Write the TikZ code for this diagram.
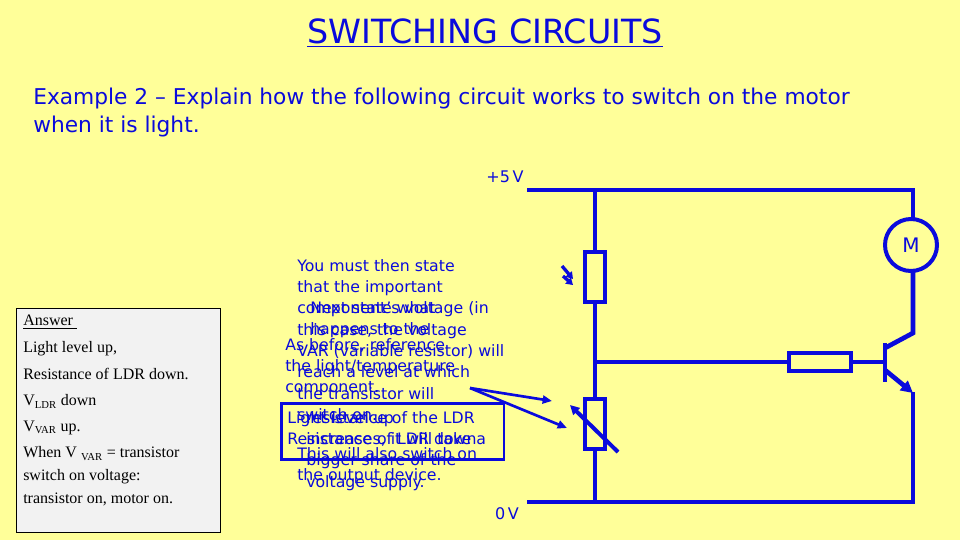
\documentclass[tikz,border=0pt]{standalone}
\usepackage{fontspec}
\setmainfont{DejaVu Sans}
\newfontfamily\tms{Liberation Serif}
\usetikzlibrary{arrows.meta}
\definecolor{bg}{RGB}{255,255,153}
\definecolor{bl}{RGB}{10,10,220}
\definecolor{boxg}{RGB}{242,242,242}
\tikzset{wire/.style={draw=bl,line width=3.5pt},
 bt/.style={text=bl,font=\fontsize{11.8}{16}\selectfont,align=left,anchor=north west,inner sep=0pt},
 comp/.style={draw=bl,line width=3pt,fill=bg}}
\begin{document}
\begin{tikzpicture}[x=0.75pt,y=-0.75pt]
\fill[bg] (0,0) rectangle (960,540);
\useasboundingbox (0,0) rectangle (960,540);
\node[text=bl,font=\fontsize{25}{28}\selectfont] (title) at (485,33) {\underline{SWITCHING CIRCUITS}};
\node[text=bl,font=\fontsize{16.3}{21}\selectfont,align=left,anchor=north west,inner sep=0pt] (ex) at (33,88) {Example 2 -- Explain how the following circuit works to switch on the motor\\when it is light.};
% answer box
\node[draw=black,fill=boxg,minimum width=153pt,minimum height=168pt,anchor=north west,inner sep=0pt] (ans) at (16,308) {};
\node[font=\tms\fontsize{12}{17}\selectfont,align=left,anchor=north west,inner sep=0pt] (anst) at (23,315) {\underline{Answer\ }\\[3pt]Light level up,\\[3pt]Resistance of LDR down.\\[3pt]V\textsubscript{LDR} down\\[2pt]V\textsubscript{VAR} up.\\[3pt]When V \textsubscript{VAR} = transistor\\switch on voltage:\\transistor on, motor on.};
% circuit
\coordinate (tl) at (527,190); \coordinate (tj) at (595,190); \coordinate (tr) at (913,190);
\coordinate (bl0) at (527,502); \coordinate (bj) at (595,502); \coordinate (br) at (913,502);
\coordinate (mid) at (595,362);
\draw[wire] (tl) -- (tr) -- (913,220);
\draw[wire] (bl0) -- (br) -- (913,392);
\draw[wire] (tj) -- (bj);
\draw[wire] (mid) -- (885,362);
\draw[wire] (913,270) -- (913,333) -- (885,348);
\draw[wire] (885,343) -- (885,382);
\draw[wire,-{Triangle[length=9pt,width=9pt]}] (885,370) -- (913,393);
\node[comp,circle,minimum size=39pt,inner sep=0pt,text=bl,font=\fontsize{15}{15}\selectfont] (mot) at (911,245) {M};
\node[comp,minimum width=15pt,minimum height=37pt,inner sep=0pt] (ldr) at (595,277) {};
\node[comp,minimum width=15pt,minimum height=37pt,inner sep=0pt] (var) at (595,424) {};
\node[comp,minimum width=47pt,minimum height=14pt,inner sep=0pt] (rb) at (820,362) {};
\draw[bl,line width=3pt,-{Triangle[length=7pt,width=7pt]}] (618,452) -- (570,405);
\draw[bl,line width=2.5pt,-{Triangle[length=5pt,width=6pt]}] (562,266) -- (573,279);
\draw[bl,line width=2.5pt,-{Triangle[length=5pt,width=6pt]}] (563,276) -- (573,285);
\node[text=bl,font=\fontsize{12}{12}\selectfont] (p5) at (505,177) {+5\,V};
\node[text=bl,font=\fontsize{12}{12}\selectfont] (z0) at (507,514) {0\,V};
% overlapping texts
\node[bt] (t1) at (297,259) {You must then state\\that the important\\component's voltage (in\\this case, the voltage\\VAR (variable resistor) will\\reach a level at which\\the transistor will\\switch on.\\[13pt]This will also switch on\\the output device.};
\node[bt] (t2) at (310,301) {Next state what\\happens to the};
\node[bt] (t3) at (285,338) {As before, reference\\the light/temperature\\component.};
\node[bt] (t4) at (306,411) {resistance of the LDR\\increases, it will take a\\bigger share of the\\voltage supply.};
\node[draw=bl,line width=2pt,minimum width=167pt,minimum height=42pt,anchor=north west] (tb) at (280,402) {};
\node[bt] (t5) at (287,411) {Light level up\\Resistance of LDR down};
\coordinate (a0) at (470,388);
\draw[bl,line width=2pt,-{Triangle[length=7pt,width=6pt]}] (a0) -- (552,401);
\draw[bl,line width=2pt,-{Triangle[length=7pt,width=6pt]}] (a0) -- (567,428);
\end{tikzpicture}
\end{document}
